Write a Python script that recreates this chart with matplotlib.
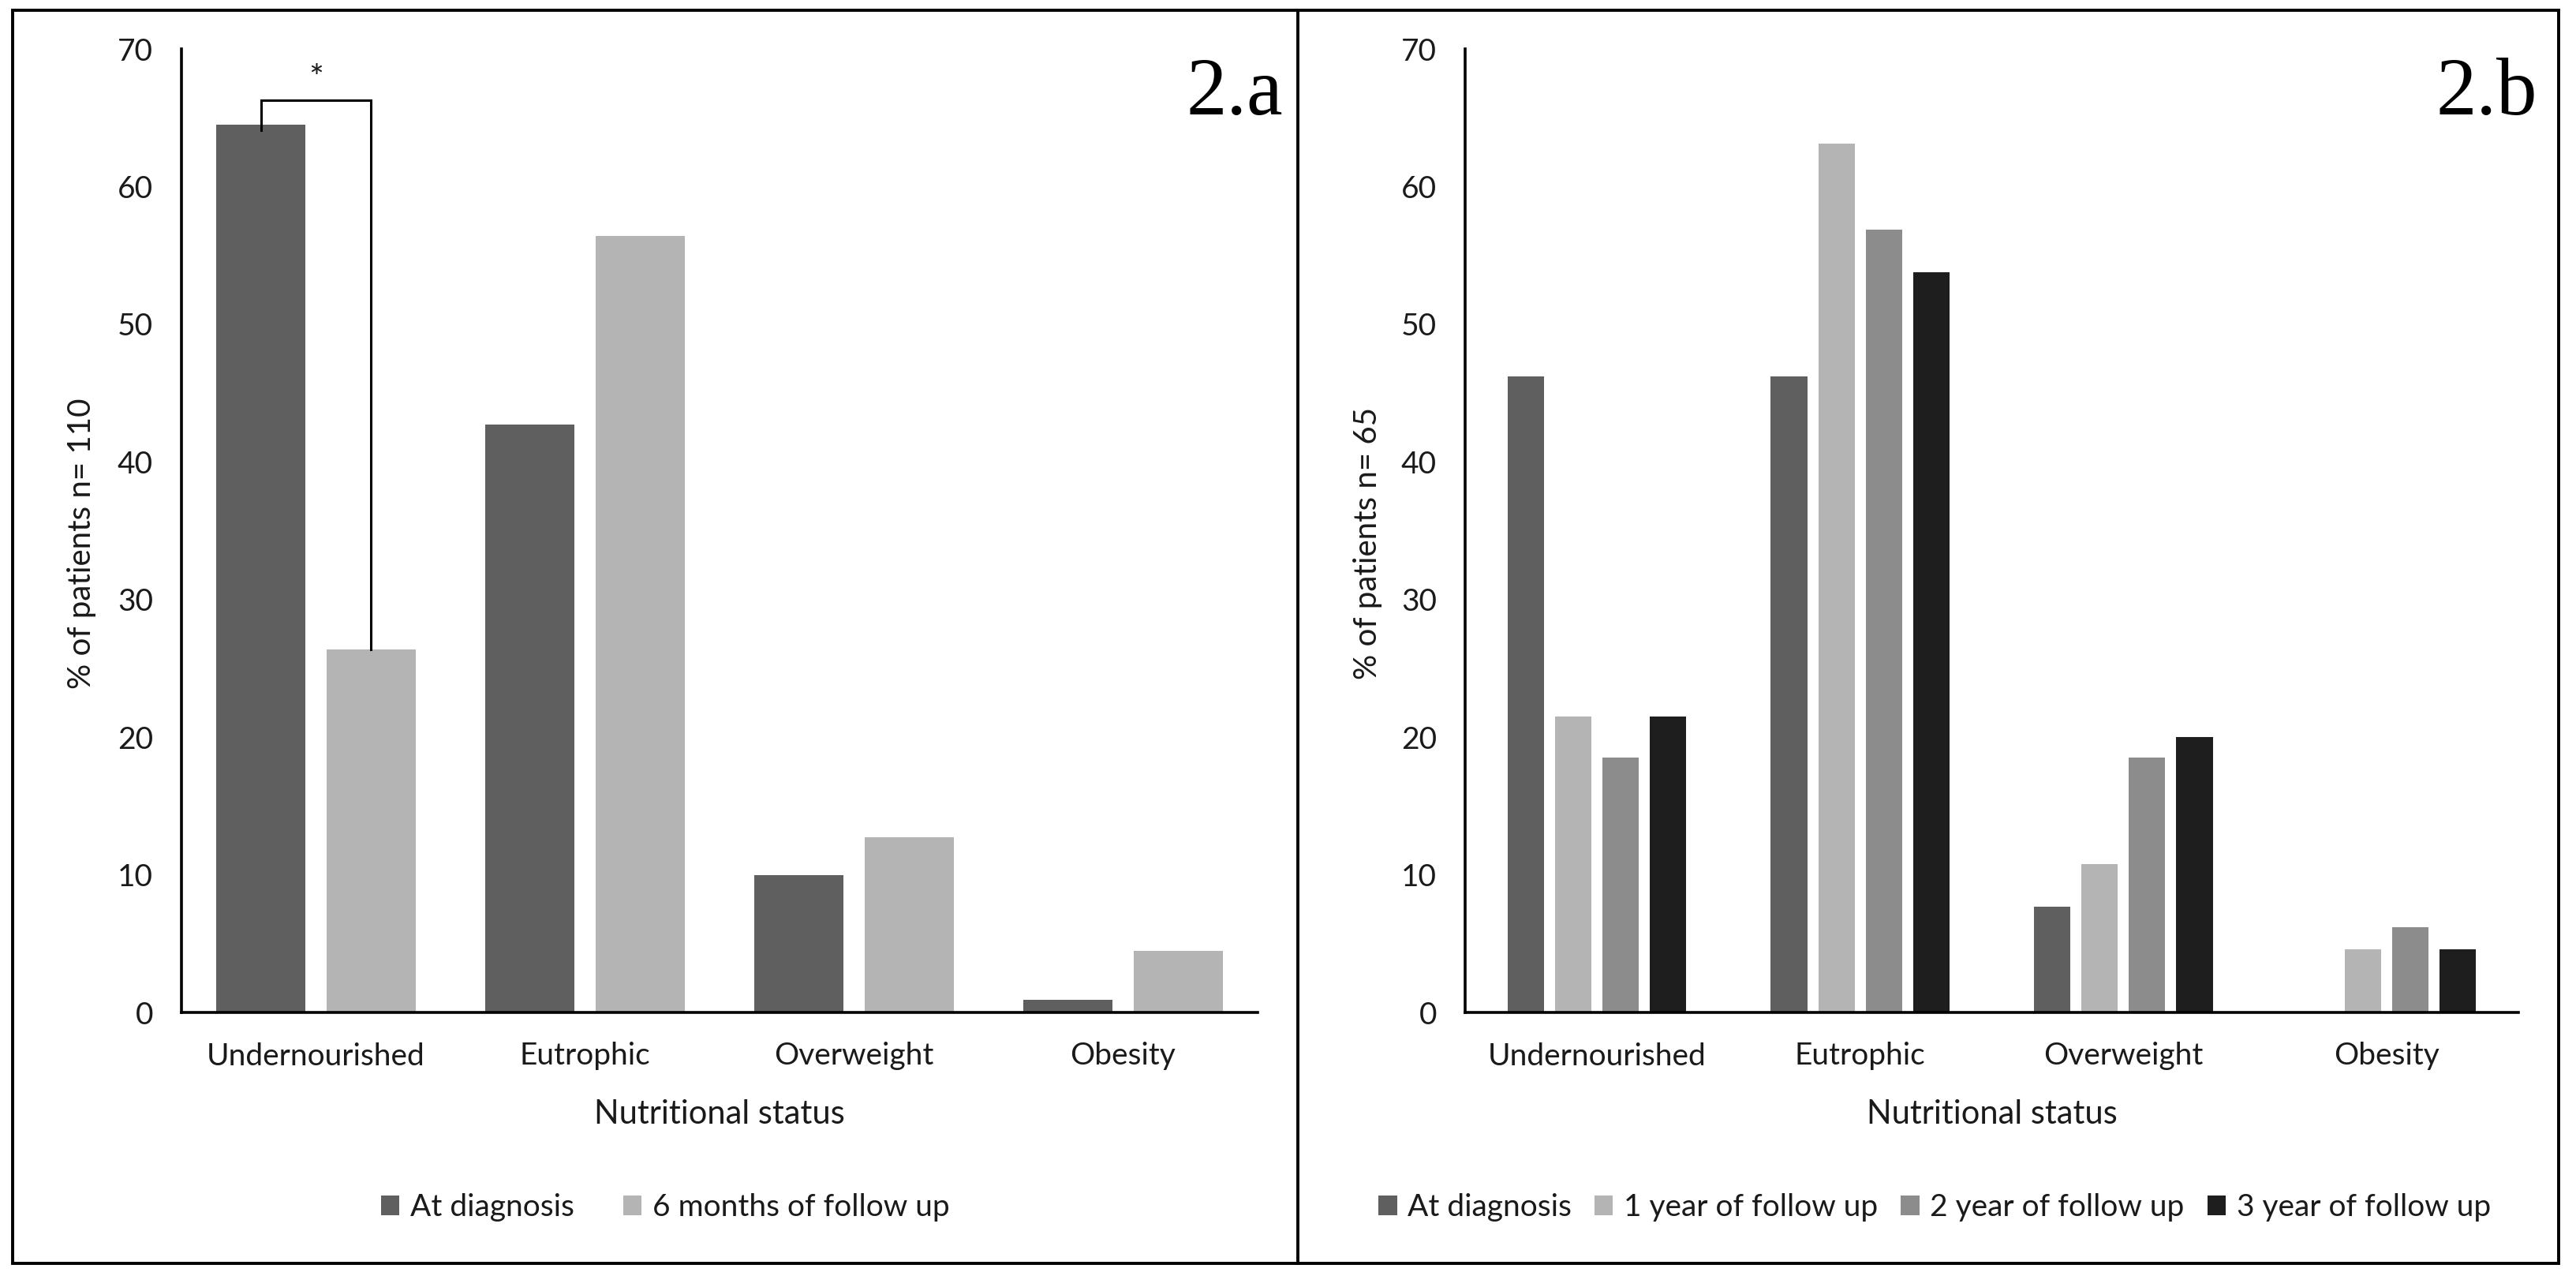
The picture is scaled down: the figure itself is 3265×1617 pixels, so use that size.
import numpy as np
import matplotlib.pyplot as plt
from matplotlib.patches import Rectangle
from matplotlib.lines import Line2D

# data
categories = ['Undernourished', 'Eutrophic', 'Overweight', 'Obesity']

a_labels = ['At diagnosis', '6 months of follow up']
a_diag = [64.5, 42.7, 10.0, 0.9]
a_6m = [26.4, 56.4, 12.7, 4.5]

b_labels = ['At diagnosis', '1 year of follow up', '2 year of follow up', '3 year of follow up']
b_diag = [46.2, 46.2, 7.7, 0.0]
b_1y = [21.5, 63.1, 10.8, 4.6]
b_2y = [18.5, 56.9, 18.5, 6.2]
b_3y = [21.5, 53.8, 20.0, 4.6]

yticks = [0, 10, 20, 30, 40, 50, 60, 70]

c_dark, c_light, c_mid, c_black = '#5f5f5f', '#b4b4b4', '#8c8c8c', '#1e1e1e'
txt = '#1a1a1a'

W, H = 3266, 1617
plt.rcParams['font.family'] = ['Lato', 'DejaVu Sans']
fs = 28

fig = plt.figure(figsize=(W / 100, H / 100), dpi=100)


def px_axes(x0, y0, x1, y1):
    return fig.add_axes([x0 / W, 1 - y1 / H, (x1 - x0) / W, (y1 - y0) / H])


def style(ax, ylabel):
    ax.set_xlim(-0.5, 3.5)
    ax.set_ylim(0, 70)
    ax.set_yticks(yticks)
    ax.set_xticks(range(len(categories)))
    ax.set_xticklabels(categories)
    for s in ['top', 'right']:
        ax.spines[s].set_visible(False)
    for s in ['left', 'bottom']:
        ax.spines[s].set_linewidth(2.6)
        ax.spines[s].set_color('black')
    ax.tick_params(axis='y', length=0, pad=26, labelsize=fs, labelcolor=txt)
    ax.tick_params(axis='x', length=0, pad=27, labelsize=fs, labelcolor=txt)
    ax.set_ylabel(ylabel, fontsize=fs + 1, color=txt)
    ax.yaxis.set_label_coords(-0.079, 0.487)
    ax.set_xlabel('Nutritional status', fontsize=fs + 2, color=txt)
    ax.xaxis.set_label_coords(0.5, -0.09)


x = np.arange(len(categories))

# panel a
ax1 = px_axes(230, 62, 1594, 1283)
off_a = 0.205
wa = 0.33
h1 = ax1.bar(x - off_a, a_diag, wa, color=c_dark, label=a_labels[0])
h2 = ax1.bar(x + off_a, a_6m, wa, color=c_light, label=a_labels[1])
style(ax1, '% of patients n= 110')

# significance bracket
top = max(a_diag[0], a_6m[0]) + 1.8
ax1.plot([x[0] - off_a, x[0] - off_a, x[0] + off_a, x[0] + off_a],
         [a_diag[0] - 0.4, top, top, a_6m[0]], color='black', lw=2.2,
         solid_joinstyle='miter')
ax1.text(x[0], top + 0.3, '*', ha='center', va='bottom', fontsize=32, color=txt)

fig.legend(handles=[h1, h2], loc='center', bbox_to_anchor=(843 / W, 1 - 1530 / H),
           ncol=2, frameon=False, fontsize=fs, handlelength=0.6, handleheight=0.6,
           handletextpad=0.35, columnspacing=1.6, labelcolor=txt)

# panel b
ax2 = px_axes(1857, 62, 3192, 1283)
offs_b = [-0.27, -0.09, 0.09, 0.27]
wb = 0.138
hb = []
for vals, col, off, lab in zip([b_diag, b_1y, b_2y, b_3y],
                               [c_dark, c_light, c_mid, c_black], offs_b, b_labels):
    hb.append(ax2.bar(x + off, vals, wb, color=col, label=lab))
style(ax2, '% of patients n= 65')

fig.legend(handles=hb, loc='center', bbox_to_anchor=(2452 / W, 1 - 1530 / H),
           ncol=4, frameon=False, fontsize=fs, handlelength=0.6, handleheight=0.6,
           handletextpad=0.35, columnspacing=0.75, labelcolor=txt)

# panel tags
fig.text(1626 / W, 1 - 145 / H, '2.a', ha='right', va='baseline',
         fontsize=74, family='Liberation Serif', color='black')
fig.text(3216 / W, 1 - 145 / H, '2.b', ha='right', va='baseline',
         fontsize=74, family='Liberation Serif', color='black')

# outer frame and divider
fig.add_artist(Rectangle((16 / W, 1 - 1601 / H), (3243 - 16) / W, (1601 - 13) / H,
                         transform=fig.transFigure, fill=False, lw=2.8, ec='black'))
fig.add_artist(Line2D([1645 / W, 1645 / W], [1 - 1601 / H, 1 - 13 / H],
                      transform=fig.transFigure, lw=2.8, color='black'))

fig.savefig('out.png', dpi=100, facecolor='white')
